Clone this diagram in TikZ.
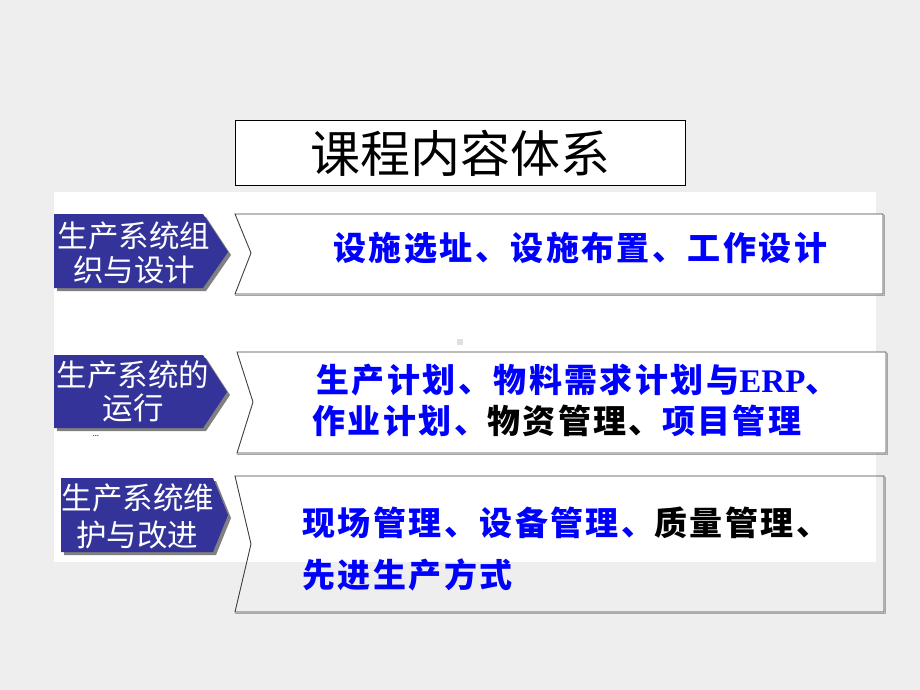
\documentclass[tikz,border=0pt]{standalone}
\usepackage{fontspec}
\newfontfamily\cjk{Noto Sans CJK SC}
\newfontfamily\cjksp[LetterSpace=7.5]{Noto Sans CJK SC}
\newfontfamily\serifft{Liberation Serif}
\definecolor{bgray}{HTML}{EEEEEE}
\definecolor{boxblue}{HTML}{333399}
\definecolor{txtblue}{HTML}{0000FF}
\definecolor{edge}{HTML}{404040}
\tikzset{
  tag/.style={fill=boxblue},
  tagshadow/.style={fill=black!50},
  tagtext/.style={text=white,font=\cjk\fontsize{30.5}{33}\selectfont,inner sep=0pt},
  chev/.style={draw=edge,line width=0.9pt},
  chevshadow/.style={draw=black!35,line width=1.2pt},
  ctext/.style={anchor=west,text=txtblue,inner sep=0pt,font=\cjksp\bfseries\fontsize{33}{36}\selectfont},
}
\begin{document}
\begin{tikzpicture}[x=1pt,y=-1pt]
\useasboundingbox (0,0) rectangle (920,690);
\fill[bgray] (0,0) rectangle (920,690);
\fill[white] (54,192) rectangle (876,562);
% title
\node[draw=black,line width=0.9pt,fill=white,minimum width=450pt,minimum height=65pt,inner sep=0pt,
  font=\cjk\fontsize{50}{54}\selectfont] (title) at (460,153) {课程内容体系};
% left tags
\fill[tagshadow] (57,217) -- (206,217) -- (231,255) -- (206,291) -- (57,291) -- cycle;
\fill[tag] (54,214) -- (203,214) -- (228,252) -- (203,288) -- (54,288) -- cycle;
\fill[tagshadow] (57,358) -- (206,358) -- (230,395) -- (206,431) -- (57,431) -- cycle;
\fill[tag] (54,355) -- (203,355) -- (227,392) -- (203,428) -- (54,428) -- cycle;
\fill[tagshadow] (64,481) -- (216,481) -- (231,518) -- (216,555) -- (64,555) -- cycle;
\fill[tag] (61,478) -- (213,478) -- (228,515) -- (213,552) -- (61,552) -- cycle;
\node[tagtext] (t1a) at (134,236) {生产系统组};
\node[tagtext] (t1b) at (134,270) {织与设计};
\node[tagtext] (t2a) at (133,375) {生产系统的};
\node[tagtext] (t2b) at (133,408) {运行};
\node[tagtext] (t3a) at (138,498) {生产系统维};
\node[tagtext] (t3b) at (137,535) {护与改进};
\node[inner sep=0pt,font=\fontsize{11}{12}\selectfont] (dots) at (96,436) {\dots};
% small mark
\fill[black!12] (457,339) rectangle (463,345);
% chevrons
\draw[chevshadow] (235,295.5) -- (884.5,295.5) -- (884.5,215);
\draw[chev,fill=white] (235,214) -- (883,214) -- (883,294) -- (235,294) -- (251,253) -- cycle;
\draw[chevshadow] (237,454.5) -- (887.5,454.5) -- (887.5,353);
\draw[chev,fill=white] (237,352) -- (886,352) -- (886,453) -- (237,453) -- (253,402) -- cycle;
\draw[chevshadow] (235,613.5) -- (885.5,613.5) -- (885.5,477);
\draw[chev] (235,476) -- (884,476) -- (884,612) -- (235,612) -- (251,544) -- cycle;
% chevron texts
\node[ctext] (c1) at (333,248) {设施选址、设施布置、工作设计};
\node[ctext] (c2) at (316,380) {生产计划、物料需求计划与{\serifft\bfseries ERP}、};
\node[ctext] (c3) at (312,421) {作业计划、\textcolor{black}{物资管理、}项目管理};
\node[ctext] (c4) at (302,523) {现场管理、设备管理、\textcolor{black}{质量管理、}};
\node[ctext] (c5) at (302,575) {先进生产方式};
\end{tikzpicture}
\end{document}
